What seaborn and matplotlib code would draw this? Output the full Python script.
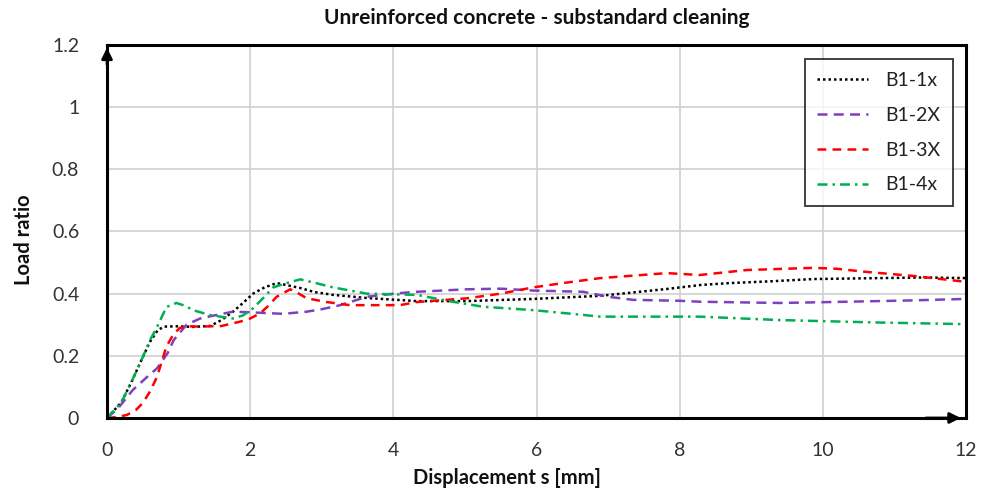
import numpy as np
import pandas as pd
import matplotlib
matplotlib.use("Agg")
import matplotlib.pyplot as plt
import seaborn as sns
from matplotlib.ticker import FuncFormatter

# Load ratio vs. displacement for each specimen
b1_1x_s = [0, 0.2, 0.35, 0.5, 0.6, 0.71, 0.8, 1.0, 1.2, 1.44, 1.6, 1.76, 1.9, 2.04, 2.2, 2.37, 2.5,
           2.7, 2.9, 3.16, 3.63, 4.33, 5.03, 5.95, 6.89, 7.82, 8.3, 8.7, 9.3, 9.87, 10.8, 11.4, 12.0]
b1_1x_r = [0, 0.05, 0.12, 0.196, 0.245, 0.283, 0.294, 0.295, 0.293, 0.296, 0.315, 0.342, 0.37, 0.40,
           0.42, 0.434, 0.428, 0.418, 0.405, 0.396, 0.386, 0.376, 0.376, 0.383, 0.393, 0.415, 0.428,
           0.434, 0.44, 0.447, 0.45, 0.452, 0.45]

b1_2x_s = [0, 0.15, 0.36, 0.55, 0.7, 0.85, 0.93, 1.11, 1.3, 1.5, 1.76, 2.0, 2.46, 2.79, 3.0, 3.26,
           3.63, 4.0, 4.33, 5.03, 5.5, 5.95, 6.65, 7.0, 7.35, 8.0, 8.28, 9.4, 10.34, 11.2, 12.0]
b1_2x_r = [0, 0.03, 0.09, 0.13, 0.16, 0.21, 0.25, 0.30, 0.32, 0.33, 0.342, 0.34, 0.335, 0.342, 0.35,
           0.363, 0.39, 0.40, 0.406, 0.414, 0.416, 0.41, 0.406, 0.39, 0.38, 0.377, 0.374, 0.37,
           0.374, 0.378, 0.383]

b1_3x_s = [0, 0.15, 0.28, 0.4, 0.5, 0.6, 0.70, 0.83, 0.93, 1.02, 1.15, 1.3, 1.6, 1.86, 2.0, 2.14,
           2.25, 2.37, 2.56, 2.68, 2.79, 3.07, 3.39, 4.09, 4.33, 5.03, 5.5, 5.95, 6.4, 6.89, 7.82,
           8.28, 8.94, 9.87, 10.2, 10.56, 11.26, 11.96]
b1_3x_r = [0, 0.003, 0.01, 0.025, 0.048, 0.085, 0.133, 0.23, 0.27, 0.29, 0.295, 0.294, 0.296, 0.31,
           0.32, 0.337, 0.36, 0.39, 0.414, 0.40, 0.385, 0.373, 0.363, 0.363, 0.373, 0.385, 0.40,
           0.42, 0.435, 0.45, 0.466, 0.46, 0.476, 0.483, 0.48, 0.471, 0.457, 0.439]

b1_4x_s = [0, 0.2, 0.35, 0.5, 0.6, 0.70, 0.83, 0.97, 1.1, 1.2, 1.44, 1.76, 1.9, 2.04, 2.2, 2.32,
           2.51, 2.70, 2.9, 3.16, 3.63, 4.33, 4.8, 5.25, 5.95, 6.5, 6.89, 7.5, 8.28, 9.4, 10.8, 11.96]
b1_4x_r = [0, 0.05, 0.12, 0.196, 0.25, 0.293, 0.357, 0.37, 0.36, 0.347, 0.331, 0.32, 0.33, 0.353,
           0.39, 0.42, 0.434, 0.446, 0.435, 0.42, 0.40, 0.396, 0.375, 0.358, 0.347, 0.335, 0.326,
           0.326, 0.326, 0.315, 0.307, 0.302]

labels = ["B1-1x", "B1-2X", "B1-3X", "B1-4x"]
colors = {"B1-1x": "#000000", "B1-2X": "#7F3FBF", "B1-3X": "#FF0000", "B1-4x": "#00B050"}
dashes = {"B1-1x": (1, 1.2), "B1-2X": (4, 2.5), "B1-3X": (3.5, 2.5), "B1-4x": (4, 2, 1, 2)}

series = [(b1_1x_s, b1_1x_r), (b1_2x_s, b1_2x_r), (b1_3x_s, b1_3x_r), (b1_4x_s, b1_4x_r)]
df = pd.concat(
    [pd.DataFrame({"s": s, "ratio": r, "specimen": lab}) for lab, (s, r) in zip(labels, series)],
    ignore_index=True,
)

sns.set_style("white")
plt.rcParams["font.family"] = ["Lato", "DejaVu Sans"]

fig = plt.figure(figsize=(10.02, 4.97), dpi=100)
ax = fig.add_axes([0.1068, 0.159, 0.8573, 0.7505])

sns.lineplot(data=df, x="s", y="ratio", hue="specimen", style="specimen",
             hue_order=labels, style_order=labels, palette=colors, dashes=dashes,
             sort=False, estimator=None, linewidth=1.8, ax=ax, legend=True)

ax.set_xlim(0, 12)
ax.set_ylim(0, 1.2)
ax.set_xticks(np.arange(0, 13, 2))
ax.set_yticks(np.arange(0, 1.21, 0.2))
ax.yaxis.set_major_formatter(FuncFormatter(lambda v, _: f"{v:g}"))
ax.grid(True, color="#cfcfcf", linewidth=1.2)
ax.set_axisbelow(True)
for sp in ax.spines.values():
    sp.set_color("black")
    sp.set_linewidth(2.2)
ax.tick_params(axis="both", length=0, labelsize=14, colors="#333333")
ax.tick_params(axis="y", pad=20)
ax.tick_params(axis="x", pad=17)

ax.set_xlabel("Displacement s [mm]", fontsize=14.5, fontweight="bold", color="#111111")
ax.set_ylabel("Load ratio", fontsize=14.5, fontweight="bold", color="#111111")
ax.xaxis.set_label_coords(0.466, -0.135)
ax.yaxis.set_label_coords(-0.085, 0.477)
ax.set_title("Unreinforced concrete - substandard cleaning", fontsize=15,
             fontweight="bold", pad=15, color="#111111")

# Axis arrows
ax.annotate("", xy=(0, 1.0), xytext=(0, 0.94), xycoords="axes fraction",
            arrowprops=dict(arrowstyle="-|>", color="black", lw=2, mutation_scale=16),
            annotation_clip=False)
ax.annotate("", xy=(0.997, 0), xytext=(0.95, 0), xycoords="axes fraction",
            arrowprops=dict(arrowstyle="-|>", color="black", lw=2, mutation_scale=16),
            annotation_clip=False)

leg = ax.legend(loc="upper right", bbox_to_anchor=(0.985, 0.962), frameon=True,
                fancybox=False, edgecolor="black", fontsize=14, labelspacing=0.92,
                handlelength=2.6, borderpad=0.65, handletextpad=0.9, borderaxespad=0)
leg.get_frame().set_linewidth(1.3)
for text in leg.get_texts():
    text.set_color("#222222")
for line in leg.get_lines():
    line.set_linewidth(1.8)

fig.savefig("out.png", dpi=100, facecolor="white")
